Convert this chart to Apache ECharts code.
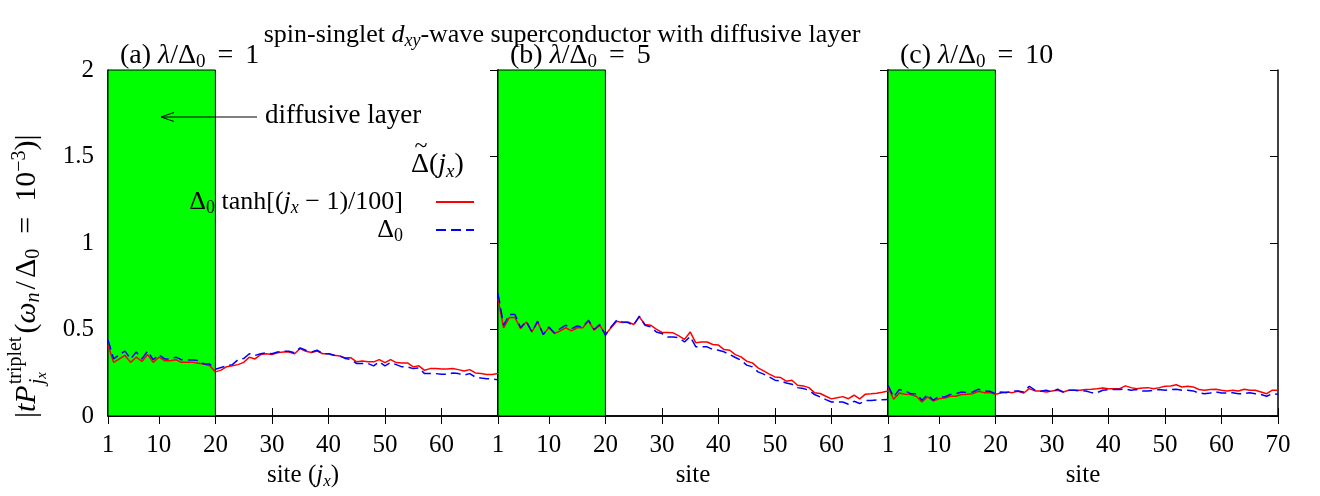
<!DOCTYPE html>
<html><head><meta charset="utf-8">
<script src="https://cdn.jsdelivr.net/npm/echarts@6/dist/echarts.min.js"></script>
<style>html,body{margin:0;padding:0;background:#fff}#c{width:1320px;height:496px}</style>
</head><body><div id="c"></div><script>
// ---------------- data ----------------
const sites = [1,2,3,4,5,6,7,8,9,10,11,12,13,14,15,16,17,18,19,20,21,22,23,24,25,26,27,28,29,30,31,32,33,34,35,36,37,38,39,40,41,42,43,44,45,46,47,48,49,50,51,52,53,54,55,56,57,58,59,60,61,62,63,64,65,66,67,68,69,70];
const redA = [0.41,0.31,0.33,0.35,0.31,0.34,0.315,0.355,0.31,0.34,0.32,0.32,0.325,0.31,0.31,0.31,0.305,0.30,0.29,0.255,
0.265,0.285,0.29,0.297,0.31,0.34,0.33,0.355,0.36,0.355,0.365,0.37,0.37,0.36,0.39,0.374,0.367,0.376,0.36,0.36,
0.351,0.347,0.336,0.336,0.313,0.318,0.313,0.313,0.326,0.309,0.326,0.309,0.307,0.307,0.284,0.29,0.264,0.274,0.274,0.272,
0.272,0.274,0.268,0.26,0.268,0.249,0.245,0.24,0.24,0.245];
const blueA = [0.44,0.33,0.355,0.375,0.33,0.37,0.33,0.375,0.325,0.355,0.33,0.33,0.34,0.325,0.324,0.324,0.32,0.30,0.30,0.27,
0.28,0.29,0.297,0.325,0.332,0.36,0.35,0.36,0.365,0.36,0.37,0.374,0.374,0.365,0.394,0.38,0.37,0.38,0.36,0.36,
0.351,0.347,0.332,0.326,0.303,0.303,0.303,0.29,0.313,0.29,0.309,0.297,0.284,0.284,0.274,0.278,0.245,0.245,0.245,0.241,
0.241,0.249,0.245,0.236,0.245,0.225,0.22,0.216,0.213,0.21];
const redB = [0.679,0.51,0.569,0.569,0.505,0.544,0.486,0.544,0.471,0.51,0.477,0.492,0.51,0.492,0.51,0.51,0.55,0.496,0.525,0.471,
0.51,0.548,0.54,0.544,0.529,0.573,0.529,0.525,0.502,0.483,0.483,0.481,0.463,0.443,0.486,0.423,0.428,0.428,0.413,0.41,
0.384,0.38,0.355,0.342,0.317,0.307,0.278,0.261,0.242,0.226,0.222,0.201,0.207,0.178,0.174,0.164,0.135,0.13,0.114,0.099,
0.106,0.112,0.1,0.12,0.099,0.126,0.128,0.132,0.137,0.145];
const blueB = [0.708,0.525,0.587,0.587,0.51,0.548,0.486,0.548,0.471,0.515,0.48,0.505,0.525,0.505,0.52,0.515,0.554,0.5,0.529,0.467,
0.515,0.554,0.544,0.54,0.525,0.577,0.525,0.515,0.486,0.477,0.457,0.457,0.452,0.428,0.46,0.4,0.4,0.4,0.384,0.38,
0.371,0.355,0.338,0.322,0.294,0.284,0.255,0.242,0.226,0.207,0.203,0.191,0.184,0.164,0.159,0.149,0.124,0.11,0.095,0.081,
0.081,0.081,0.068,0.085,0.072,0.09,0.09,0.092,0.094,0.095];
const redC = [0.168,0.097,0.133,0.126,0.124,0.114,0.081,0.11,0.087,0.1,0.104,0.114,0.114,0.124,0.126,0.129,0.143,0.135,0.135,0.126,
0.133,0.139,0.135,0.143,0.133,0.158,0.145,0.145,0.139,0.145,0.149,0.139,0.149,0.149,0.149,0.153,0.155,0.158,0.162,0.158,
0.158,0.158,0.174,0.164,0.158,0.162,0.164,0.158,0.164,0.172,0.174,0.181,0.168,0.172,0.168,0.153,0.149,0.153,0.155,0.149,
0.145,0.149,0.145,0.155,0.149,0.149,0.139,0.129,0.149,0.149];
const blueC = [0.178,0.11,0.153,0.145,0.129,0.129,0.091,0.124,0.091,0.114,0.11,0.124,0.129,0.139,0.135,0.139,0.155,0.145,0.143,0.129,
0.139,0.135,0.145,0.145,0.139,0.172,0.149,0.143,0.149,0.139,0.155,0.139,0.149,0.149,0.145,0.145,0.135,0.135,0.149,0.153,
0.153,0.153,0.155,0.149,0.153,0.145,0.145,0.149,0.153,0.149,0.153,0.155,0.149,0.149,0.145,0.133,0.129,0.133,0.139,0.133,
0.133,0.135,0.129,0.129,0.135,0.129,0.124,0.114,0.129,0.126];
const xTicksAB = [1,10,20,30,40,50,60];
const xTicksC = [1,10,20,30,40,50,60,70];
const yTicks = [0,0.5,1,1.5,2];
const layerRange = [1,20];
const lambdas = ['1','5','10'];
const panelLetters = ['a','b','c'];
const xNames = ['site ({i|j}{sb|x})','site','site'];

// ---------------- chart ----------------
const FF = '"Liberation Serif", "DejaVu Serif", serif';
const FS = 25;
function mkRich(fs, sfs, off, eqPad){
  return {
    n:{fontFamily:FF,fontSize:fs,color:'#000'},
    np:{fontFamily:FF,fontSize:fs,color:'#000',padding:[0,7,0,0]},
    sl:{fontFamily:FF,fontSize:fs,color:'#000',padding:[0,2,0,2]},
    i:{fontFamily:FF,fontSize:fs,fontStyle:'italic',color:'#000'},
    eq:{fontFamily:FF,fontSize:fs,color:'#000',padding:[0,eqPad,0,eqPad]},
    sb:{fontFamily:FF,fontSize:sfs,fontStyle:'italic',color:'#000',padding:[off,0,0,0]},
    s0:{fontFamily:FF,fontSize:sfs,color:'#000',padding:[off,0,0,0]},
    sp:{fontFamily:FF,fontSize:sfs,color:'#000',padding:[0,0,off,0]}
  };
}
const rich = mkRich(FS,17,12,9);
const rich26 = mkRich(26,18,12,9);
const richT = mkRich(28,19,13,12);
const chart = echarts.init(document.getElementById('c'), null, {renderer:'canvas'});
const panels = [[redA,blueA],[redB,blueB],[redC,blueC]];
const gridLeft = [108,498,888];
const grids=[], xAxes=[], yAxes=[], series=[];
panels.forEach((p,k)=>{
  grids.push({left:gridLeft[k], top:70, width:390, height:346, show:false});
  const ticks = k===2 ? xTicksC : xTicksAB;
  const axLine = {show:true, lineStyle:{color:'#000', width:1.5}};
  xAxes.push({type:'value', gridIndex:k, min:1, max:70, position:'bottom',
    axisLine:axLine, splitLine:{show:false},
    axisTick:{inside:true, length:8, customValues:ticks, lineStyle:{color:'#000'}},
    axisLabel:{customValues:ticks, margin:17, fontFamily:FF, fontSize:FS, color:'#000'},
    name:xNames[k], nameLocation:'middle', nameGap:44,
    nameTextStyle:{fontFamily:FF, fontSize:FS, color:'#000', rich:rich}});
  xAxes.push({type:'value', gridIndex:k, min:1, max:70, position:'top',
    axisLine:axLine, splitLine:{show:false},
    axisTick:{inside:true, length:8, customValues:ticks, lineStyle:{color:'#000'}},
    axisLabel:{show:false}});
  yAxes.push({type:'value', gridIndex:k, min:0, max:2, interval:0.5, position:'left',
    axisLine:axLine, splitLine:{show:false},
    axisTick:{inside:true, length:8, lineStyle:{color:'#000'}},
    axisLabel:{show:k===0, margin:14, fontFamily:FF, fontSize:FS, color:'#000'}});
  yAxes.push({type:'value', gridIndex:k, min:0, max:2, interval:0.5, position:'right',
    axisLine:axLine, splitLine:{show:false},
    axisTick:{inside:true, length:8, lineStyle:{color:'#000'}},
    axisLabel:{show:false}});
  series.push({type:'line', xAxisIndex:2*k, yAxisIndex:2*k, data:[], silent:true, z:1,
    markArea:{silent:true, itemStyle:{color:'#00ff00', opacity:1, borderColor:'#000', borderWidth:1},
      data:[[{xAxis:layerRange[0], yAxis:0},{xAxis:layerRange[1], yAxis:2}]]}});
  series.push({type:'line', name:'red', xAxisIndex:2*k, yAxisIndex:2*k, symbol:'none', z:3,
    data:sites.map((s,i)=>[s,p[0][i]]), lineStyle:{color:'#ff0000', width:1.5}, itemStyle:{color:'#ff0000'}});
  series.push({type:'line', name:'blue', xAxisIndex:2*k, yAxisIndex:2*k, symbol:'none', z:4,
    data:sites.map((s,i)=>[s,p[1][i]]), lineStyle:{color:'#0000ff', width:1.5, type:[10,5]}, itemStyle:{color:'#0000ff'}});
});

// y-axis label: pieces laid out along a rotated group
const YF = 30, YS = 20, YSS = 15, YEQ = 15;
const cv = document.createElement('canvas').getContext('2d');
function w(font, t){ cv.font = font; return cv.measureText(t).width; }
const fS = YS+'px '+FF;
const wt = w(fS,'triplet');
const richY = mkRich(YF, YS, 14, YEQ);
richY.sl = {fontFamily:FF,fontSize:YF,color:'#000',padding:[0,3,0,3]};
richY.ss = {fontFamily:FF,fontSize:YSS,fontStyle:'italic',color:'#000',padding:[8,0,0,0]};
richY.sj = {fontFamily:FF,fontSize:YS,fontStyle:'italic',color:'#000'};
// start of "|tP" at screen y 418 ; part1 width measured
const w1 = w(YF+'px '+FF,'|')+w('italic '+YF+'px '+FF,'tP');
const gy = 418 - w1;

const graphics = [
  {type:'text', z:100, x:562, y:35, style:{text:'{n|spin-singlet }{i|d}{sb|xy}{n|-wave superconductor with diffusive layer}', rich:rich26, align:'center', verticalAlign:'middle'}},
  {type:'text', z:100, x:265, y:116, style:{text:'diffusive layer', font:'27px '+FF, fill:'#000', align:'left', verticalAlign:'middle'}},
  {type:'line', z:100, shape:{x1:257, y1:117, x2:161, y2:117}, style:{stroke:'#000', lineWidth:1}},
  {type:'polyline', z:100, shape:{points:[[174,112.5],[161,117],[174,121.5]]}, style:{stroke:'#000', lineWidth:1, fill:null}},
  {type:'text', z:100, x:411, y:165, style:{text:'{n|Δ(}{i|j}{sb|x}{n|)}', rich:richT, align:'left', verticalAlign:'middle'}},
  {type:'text', z:100, x:421, y:147, style:{text:'~', font:'24px '+FF, fill:'#000', align:'center', verticalAlign:'middle'}},
  {type:'group', z:100, x:27, y:gy, rotation:Math.PI/2, children:[
    {type:'text', z:100, x:0, y:0, style:{text:'{n||}{i|tP}', rich:richY, align:'right', verticalAlign:'middle'}},
    {type:'text', z:100, x:1, y:-11, style:{text:'triplet', font:fS, fill:'#000', align:'left', verticalAlign:'middle'}},
    {type:'text', z:100, x:1, y:11, style:{text:'{sj|j}{ss|x}', rich:richY, align:'left', verticalAlign:'middle'}},
    {type:'text', z:100, x:wt+4, y:0, style:{text:'{n|(}{i|ω}{sb|n}{sl|/}{n|Δ}{s0|0}{eq|=}{n|10}{sp|−3}{n|)|}', rich:richY, align:'left', verticalAlign:'middle'}}
  ]}
];
const titleX = [120,510,900];
panelLetters.forEach((l,k)=>{
  graphics.push({type:'text', z:100, x:titleX[k], y:56, style:{text:'{np|('+l+')}{i|λ}{n|/Δ}{s0|0}{eq|=}{n|'+lambdas[k]+'}', rich:richT, align:'left', verticalAlign:'middle'}});
});

chart.setOption({
  animation:false,
  backgroundColor:'#fff',
  grid:grids, xAxis:xAxes, yAxis:yAxes, series:series,
  legend:{data:['red','blue'], orient:'vertical', right:840, top:184, itemWidth:38, itemHeight:14, itemGap:0, align:'right',
    itemStyle:{opacity:0},
    formatter:function(n){ return n==='red' ? '{n|Δ}{s0|0}{n| tanh[(}{i|j}{sb|x}{n| − 1)/100]}' : '{n|Δ}{s0|0}'; },
    textStyle:{fontFamily:FF, fontSize:26, color:'#000', width:275, align:'right', padding:[0,28,0,0], rich:rich26}},
  graphic:graphics
});
</script></body></html>
